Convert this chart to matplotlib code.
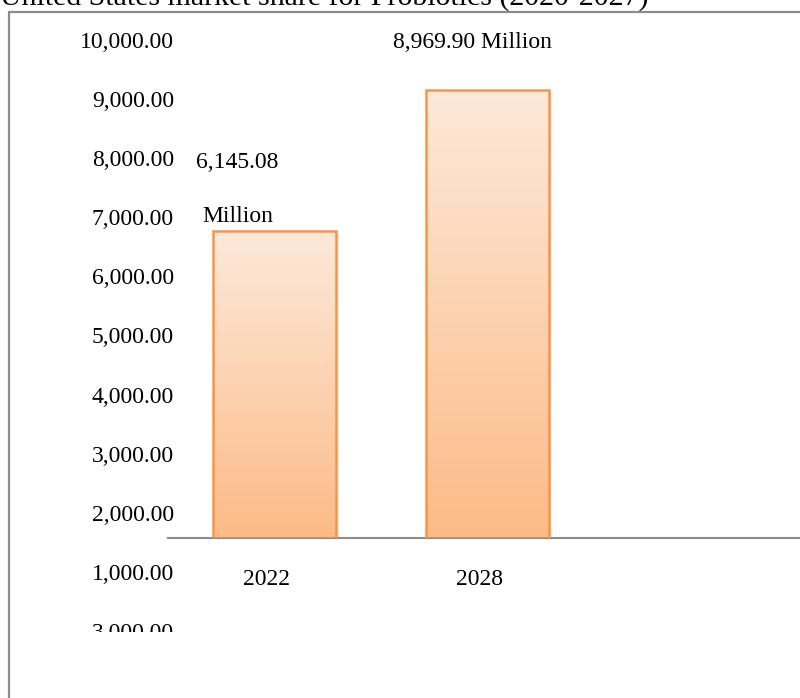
import numpy as np
import matplotlib.pyplot as plt
from matplotlib.colors import LinearSegmentedColormap
from matplotlib.patches import Rectangle
from matplotlib.transforms import ScaledTranslation

plt.rcParams['font.family'] = ['Liberation Serif', 'DejaVu Serif']

title = "United States market share for Probiotics (2020-2027)"
years = ["2022", "2028"]
values = [6145.08, 8969.90]
value_labels = ["6,145.08\n\nMillion", "8,969.90 Million"]
y_tick_values = [10000, 9000, 8000, 7000, 6000, 5000, 4000, 3000, 2000, 1000, 0]
y_tick_labels = ["10,000.00", "9,000.00", "8,000.00", "7,000.00", "6,000.00",
                 "5,000.00", "4,000.00", "3,000.00", "2,000.00", "1,000.00",
                 "3,000.00"]

W, H = 800, 698
fig = plt.figure(figsize=(W / 100, H / 100), dpi=100)


def fx(px):
    return px / W


def fy(py):
    return 1 - py / H


# outer frame (gray, runs off the right/bottom edge)
fig.add_artist(Rectangle((fx(9), -0.2), 1.5, fy(12) + 0.2, transform=fig.transFigure,
                         fill=False, edgecolor="#8c8c8c", lw=1.6, zorder=0))

# bars
ax = fig.add_axes([fx(168), fy(538), 1 - fx(168), fy(12) - fy(538)])
ax.patch.set_visible(False)
ax.set_xlim(-0.5, 2.467)
ax.set_ylim(0, 10530)
for s in ["top", "right", "left"]:
    ax.spines[s].set_visible(False)
ax.spines["bottom"].set_color("#8c8c8c")
ax.spines["bottom"].set_linewidth(1.5)
ax.set_yticks([])

cmap = LinearSegmentedColormap.from_list("peach", ["#fcbb87", "#fde9da"])
grad = np.linspace(0, 1, 256).reshape(-1, 1)
width = 0.577
x = np.arange(len(years))
bars = ax.bar(x, values, width=width, facecolor="none", edgecolor="#f79646",
              linewidth=1.8, zorder=3)
for b in bars:
    x0, w, h = b.get_x(), b.get_width(), b.get_height()
    # soft shadow
    ax.add_patch(Rectangle((x0 + 0.012, 0), w, h - 40, facecolor="#000000",
                           alpha=0.07, edgecolor="none", zorder=1))
    im = ax.imshow(grad, extent=(x0, x0 + w, 0, h), origin="lower", cmap=cmap,
                   aspect="auto", zorder=2)
    im.set_clip_path(b)

# value labels
offsets = [(-37, 4), (-15, 37)]
spacing = [1.38, 1.2]
for i, (v, lab) in enumerate(zip(values, value_labels)):
    ax.annotate(lab, xy=(x[i], v), xytext=offsets[i], textcoords="offset pixels",
                ha="center", va="bottom", fontsize=17, linespacing=spacing[i],
                multialignment="center")

# category labels
ax.set_xticks(x, years)
ax.tick_params(axis="x", length=0, pad=22, labelsize=17)
for lbl in ax.get_xticklabels():
    lbl.set_transform(lbl.get_transform() + ScaledTranslation(-8 / 100, 0, fig.dpi_scale_trans))

# value axis labels (own scale, as in the source)
ax_lab = fig.add_axes([fx(174), 0, 0.0001, 1])
ax_lab.patch.set_visible(False)
for s in ax_lab.spines.values():
    s.set_visible(False)
ax_lab.set_xticks([])
ax_lab.set_ylim(-1134, 10677)
ax_lab.set_yticks(y_tick_values, y_tick_labels)
ax_lab.tick_params(axis="y", length=0, pad=0, labelsize=17)

# last label is cut in half in the source
fig.add_artist(Rectangle((fx(60), 0), fx(125), fy(632), transform=fig.transFigure,
                         facecolor="white", edgecolor="none", zorder=5))

fig.text(0, fy(6), title, fontsize=21.5, ha="left", va="baseline")

fig.savefig("out.png", dpi=100)
